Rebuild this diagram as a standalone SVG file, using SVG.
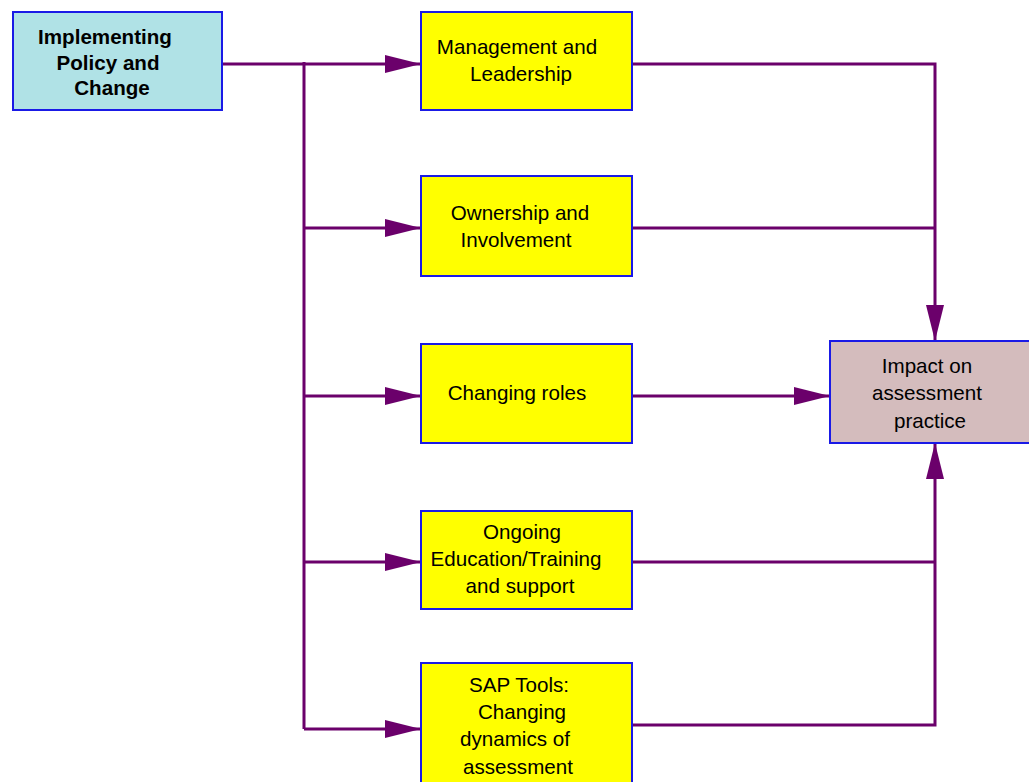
<svg xmlns="http://www.w3.org/2000/svg" width="1029" height="782" viewBox="0 0 1029 782">
  <defs>
    <marker id="arrow" markerUnits="userSpaceOnUse" markerWidth="36" markerHeight="18" refX="36" refY="9" orient="auto">
      <path d="M0,0 L36,9 L0,18 Z" fill="#6b006b"/>
    </marker>
    <style>
      .box { stroke: #1a1ae6; stroke-width: 2; }
      .src { fill: #b0e2e6; }
      .factor { fill: #ffff00; }
      .impact { fill: #d4bcbd; }
      .link { fill: none; stroke: #6b006b; stroke-width: 3; }
      text { font-family: "Liberation Sans", Arial, sans-serif; font-size: 20.6px; fill: #000; text-anchor: middle; }
      .bold { font-weight: bold; }
    </style>
  </defs>
  <rect width="1029" height="782" fill="#ffffff"/>

  <g id="connectors">
    <!-- source feed and trunk -->
    <path class="link" d="M222,64 H304"/>
    <path class="link" d="M304,62 V729"/>
    <path class="link" d="M304,64 H421" marker-end="url(#arrow)"/>
    <path class="link" d="M304,228 H421" marker-end="url(#arrow)"/>
    <path class="link" d="M304,396 H421" marker-end="url(#arrow)"/>
    <path class="link" d="M304,562 H421" marker-end="url(#arrow)"/>
    <path class="link" d="M304,729 H421" marker-end="url(#arrow)"/>
    <!-- factors into impact -->
    <path class="link" d="M632,64 H935 V341" marker-end="url(#arrow)"/>
    <path class="link" d="M632,228 H935"/>
    <path class="link" d="M632,396 H830" marker-end="url(#arrow)"/>
    <path class="link" d="M632,725 H935 V443" marker-end="url(#arrow)"/>
    <path class="link" d="M632,562 H935"/>
  </g>

  <g id="policy">
    <rect class="box src" x="13" y="12" width="209" height="98"/>
    <text class="bold" x="105" y="44">Implementing</text>
    <text class="bold" x="108" y="70">Policy and</text>
    <text class="bold" x="112" y="95">Change</text>
  </g>

  <g id="management">
    <rect class="box factor" x="421" y="12" width="211" height="98"/>
    <text x="517" y="54">Management and</text>
    <text x="521" y="81">Leadership</text>
  </g>

  <g id="ownership">
    <rect class="box factor" x="421" y="176" width="211" height="100"/>
    <text x="520" y="220">Ownership and</text>
    <text x="516" y="247">Involvement</text>
  </g>

  <g id="roles">
    <rect class="box factor" x="421" y="344" width="211" height="99"/>
    <text x="517" y="400">Changing roles</text>
  </g>

  <g id="education">
    <rect class="box factor" x="421" y="511" width="211" height="98"/>
    <text x="522" y="539">Ongoing</text>
    <text x="516" y="566">Education/Training</text>
    <text x="520" y="593">and support</text>
  </g>

  <g id="sap-tools">
    <rect class="box factor" x="421" y="663" width="211" height="125"/>
    <text x="519" y="692">SAP Tools:</text>
    <text x="522" y="719">Changing</text>
    <text x="515" y="746">dynamics of</text>
    <text x="518" y="774">assessment</text>
  </g>

  <g id="impact">
    <rect class="box impact" x="830" y="341" width="205" height="102"/>
    <text x="927" y="373">Impact on</text>
    <text x="927" y="400">assessment</text>
    <text x="930" y="428">practice</text>
  </g>
</svg>
